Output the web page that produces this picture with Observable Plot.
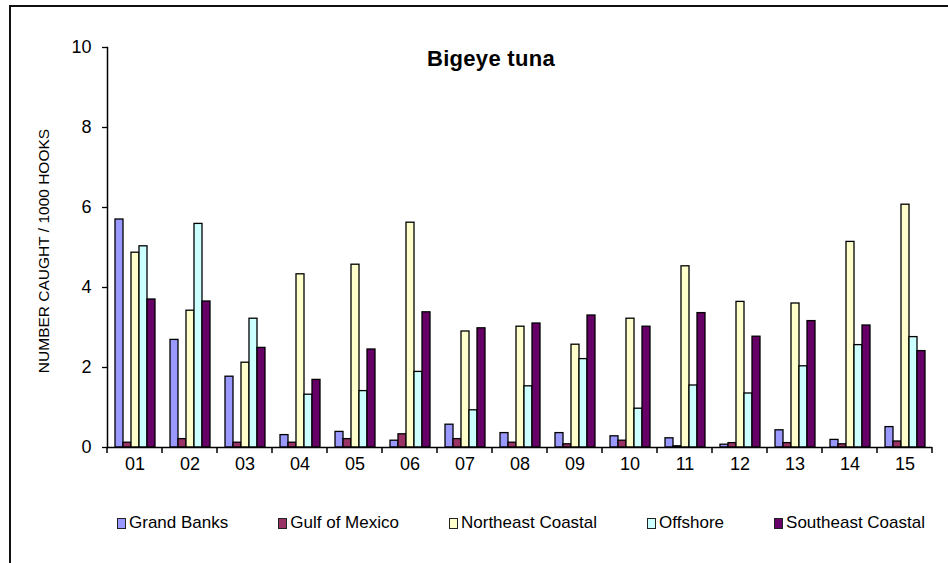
<!DOCTYPE html>
<html>
<head>
<meta charset="utf-8">
<script src="https://cdn.jsdelivr.net/npm/d3@7"></script>
<script src="https://cdn.jsdelivr.net/npm/@observablehq/plot@0.6"></script>
<style>
  html, body { margin: 0; padding: 0; background: #fff; }
  #page { position: relative; width: 948px; height: 563px; overflow: hidden; font-family: "Liberation Sans", Arial, sans-serif; color: #000; }
  #frame { position: absolute; left: 9px; top: 5px; width: 960px; height: 600px; border-top: 2px solid #111; border-left: 2px solid #111; }
  #chart { position: absolute; left: 0; top: 0; }
  #title { position: absolute; left: 391px; width: 200px; top: 46px; text-align: center; font-weight: bold; font-size: 22px; letter-spacing: 0.3px; }
  #ylabel { position: absolute; left: 44px; top: 251px; transform: translate(-50%, -50%) rotate(-90deg); font-size: 15.5px; white-space: nowrap; }
  #legend { position: absolute; left: 117px; width: 808px; top: 513px; display: flex; justify-content: space-between; font-size: 17px; }
  .item { display: flex; align-items: center; white-space: nowrap; }
  .sw { width: 7px; height: 9px; border: 1px solid #222; margin-right: 3px; }
</style>
</head>
<body>
<div id="page">
  <div id="frame"></div>
  <div id="chart"></div>
  <div id="title">Bigeye tuna</div>
  <div id="ylabel">NUMBER CAUGHT / 1000 HOOKS</div>
  <div id="legend"></div>
</div>
<script>
const years = ["01","02","03","04","05","06","07","08","09","10","11","12","13","14","15"];
const series = ["Grand Banks","Gulf of Mexico","Northeast Coastal","Offshore","Southeast Coastal"];
const colors = ["#9999FF","#993366","#FFFFCC","#CCFFFF","#660066"];
const yTicks = [0,2,4,6,8,10];

const grandBanks       = [5.70,2.69,1.77,0.31,0.39,0.17,0.57,0.36,0.36,0.28,0.23,0.07,0.43,0.19,0.51];
const gulfOfMexico     = [0.12,0.21,0.12,0.12,0.21,0.33,0.21,0.12,0.08,0.17,0.03,0.11,0.11,0.08,0.15];
const northeastCoastal = [4.87,3.42,2.12,4.33,4.57,5.62,2.90,3.02,2.57,3.22,4.53,3.64,3.60,5.14,6.07];
const offshore         = [5.03,5.59,3.22,1.32,1.41,1.89,0.93,1.53,2.21,0.97,1.55,1.35,2.03,2.56,2.76];
const southeastCoastal = [3.70,3.65,2.49,1.69,2.45,3.38,2.98,3.10,3.30,3.02,3.36,2.77,3.16,3.05,2.41];

const valuesBySeries = [grandBanks, gulfOfMexico, northeastCoastal, offshore, southeastCoastal];
const data = [];
years.forEach((yr, i) => series.forEach((s, j) => data.push({year: yr, series: s, value: valuesBySeries[j][i]})));

const chart = Plot.plot({
  width: 948,
  height: 482,
  marginLeft: 107,
  marginRight: 16,
  marginTop: 47,
  marginBottom: 35,
  style: {fontFamily: "'Liberation Sans', Arial, sans-serif", background: "transparent", overflow: "visible", color: "#000"},
  fx: {domain: years, paddingInner: 0, paddingOuter: 0, label: null},
  x: {domain: series, paddingInner: 0, paddingOuter: 0.66, axis: null},
  y: {domain: [0, 10], axis: null},
  color: {domain: series, range: colors},
  marks: [
    Plot.barY(data, {fx: "year", x: "series", y: "value", fill: "series", stroke: "#000", strokeWidth: 1.3}),
    Plot.ruleY([0], {stroke: "#000", strokeWidth: 1.5}),
    Plot.axisFx({anchor: "bottom", tickSize: 0, tickPadding: 10, fontSize: 18, label: null}),
    Plot.axisY({ticks: yTicks, tickSize: 5, tickPadding: 11, fontSize: 18, label: null, strokeWidth: 1.3}),
    Plot.frame({anchor: "left", facetAnchor: "left", stroke: "#000", strokeWidth: 1.5})
  ]
});
document.getElementById("chart").appendChild(chart);

// category boundary ticks (Excel style), derived from the fx scale
const fx = chart.scale("fx");
const yScale = chart.scale("y");
const y0 = yScale.apply(0);
const bounds = years.map(d => fx.apply(d)).concat([fx.apply(years[years.length - 1]) + fx.bandwidth]);
d3.select(chart).append("g").selectAll("line").data(bounds).join("line")
  .attr("x1", d => d).attr("x2", d => d)
  .attr("y1", y0).attr("y2", y0 + 6)
  .attr("stroke", "#000").attr("stroke-width", 1.5);

// legend
const legend = d3.select("#legend");
series.forEach((s, i) => {
  const it = legend.append("div").attr("class", "item");
  it.append("div").attr("class", "sw").style("background", colors[i]);
  it.append("span").text(s);
});
</script>
</body>
</html>
